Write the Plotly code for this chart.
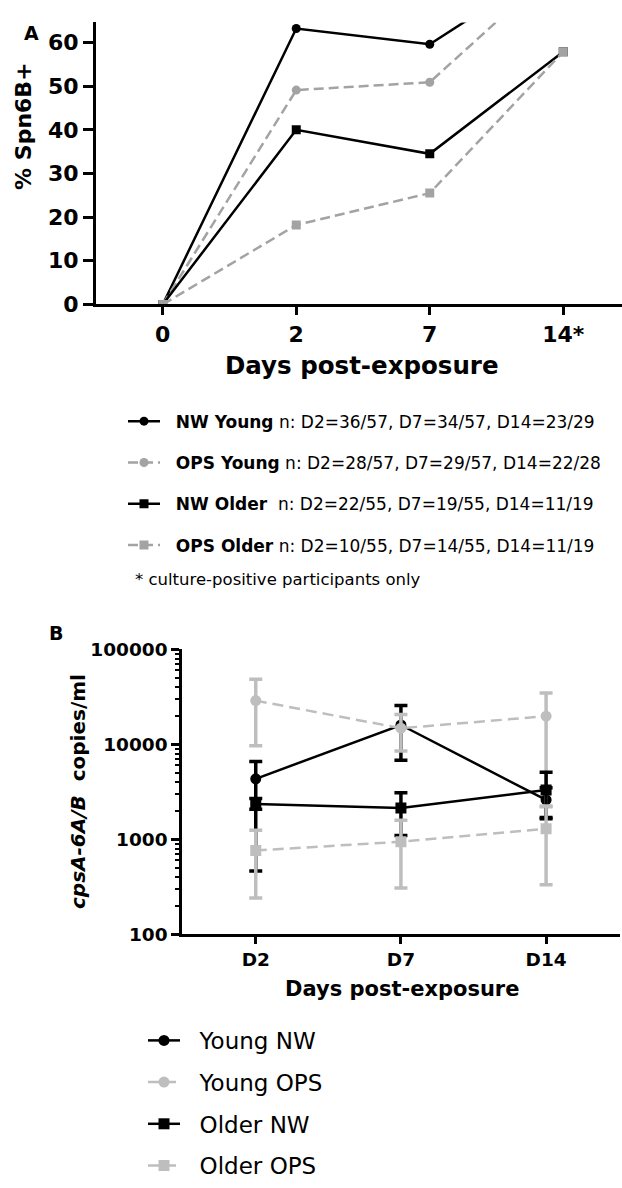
import plotly.graph_objects as go

W, H = 622, 1188
FONT = "DejaVu Sans"
GRAY_A = "#A3A3A3"
GRAY_B = "#BEBEBE"
NB = "\u00a0"

# ---------------- Panel A data ----------------
a_days = ["0", "2", "7", "14*"]
a_yticks = [0, 10, 20, 30, 40, 50, 60]
nw_young = [0, 63.2, 59.6, 79.3]
ops_young = [0, 49.1, 50.9, 78.6]
nw_older = [0, 40.0, 34.5, 57.9]
ops_older = [0, 18.2, 25.5, 57.9]
a_names = [
    "<b>NW Young</b> n: D2=36/57, D7=34/57, D14=23/29",
    "<b>OPS Young</b> n: D2=28/57, D7=29/57, D14=22/28",
    "<b>NW Older</b>\u00a0 n: D2=22/55, D7=19/55, D14=11/19",
    "<b>OPS Older</b> n: D2=10/55, D7=14/55, D14=11/19",
]

# ---------------- Panel B data ----------------
b_days = ["D2", "D7", "D14"]
b_yticks = [100, 1000, 10000, 100000]
b_yticklabels = ["100", "1000", "10000", "100000"]
young_nw = [4340, 16000, 2600]
young_nw_hi = [6600, 25700, 3500]
young_nw_lo = [465, 6800, 1700]
young_ops = [28900, 14800, 19800]
young_ops_hi = [48400, 20700, 34800]
young_ops_lo = [9700, 8500, 2200]
older_nw = [2360, 2140, 3300]
older_nw_hi = [2700, 3090, 5080]
older_nw_lo = [2080, 1100, 1650]
older_ops = [764, 944, 1295]
older_ops_hi = [1245, 1590, 2250]
older_ops_lo = [242, 307, 333]
b_names = ["Young NW", "Young OPS", "Older NW", "Older OPS"]


def px_x(p):
    return p / W


def px_y(p):
    return (H - p) / H


fig = go.Figure()

# Panel A traces
a_series = [
    (nw_young, "black", "solid", "circle"),
    (ops_young, GRAY_A, "10px,5px", "circle"),
    (nw_older, "black", "solid", "square"),
    (ops_older, GRAY_A, "10px,5px", "square"),
]
for i, (vals, col, dash, sym) in enumerate(a_series):
    fig.add_trace(go.Scatter(
        x=a_days, y=vals, mode="lines+markers", name=NB * 2 + a_names[i],
        line=dict(color=col, width=2.5, dash=dash),
        marker=dict(color=col, size=9, symbol=sym),
        xaxis="x", yaxis="y", legend="legend", legendgroup="a%d" % i,
    ))

# Panel B traces
b_series = [
    (young_nw, young_nw_hi, young_nw_lo, "black", "solid", "circle"),
    (young_ops, young_ops_hi, young_ops_lo, GRAY_B, "11px,6px", "circle"),
    (older_nw, older_nw_hi, older_nw_lo, "black", "solid", "square"),
    (older_ops, older_ops_hi, older_ops_lo, GRAY_B, "11px,6px", "square"),
]
for i, (m, hi, lo, col, dash, sym) in enumerate(b_series):
    fig.add_trace(go.Scatter(
        x=b_days, y=m, mode="lines+markers", name=NB * 2 + b_names[i],
        line=dict(color=col, width=2.5, dash=dash),
        marker=dict(color=col, size=11, symbol=sym),
        error_y=dict(type="data", symmetric=False,
                     array=[h - v for h, v in zip(hi, m)],
                     arrayminus=[v - l for v, l in zip(m, lo)],
                     color=col, thickness=3.5, width=6.5),
        xaxis="x2", yaxis="y2", legend="legend2", legendgroup="b%d" % i,
    ))

axis_common = dict(showline=True, linecolor="black", showgrid=False, zeroline=False,
                   ticks="outside", tickcolor="black")

fig.update_layout(
    width=W, height=H,
    margin=dict(l=0, r=0, t=0, b=0),
    paper_bgcolor="white", plot_bgcolor="white",
    font=dict(family=FONT, color="black"),
    xaxis=dict(domain=[px_x(96), 1.0], anchor="y", type="category", range=[-0.5, 3.44],
               linewidth=3, ticklen=8, tickwidth=3,
               tickfont=dict(size=22, weight="bold", family=FONT), **axis_common),
    yaxis=dict(domain=[px_y(300), px_y(11.7)], anchor="x", range=[0, 64.6],
               tickvals=a_yticks, linewidth=3, ticklen=10, tickwidth=3,
               tickfont=dict(size=22, weight="bold", family=FONT), **axis_common),
    xaxis2=dict(domain=[px_x(182), px_x(620)], anchor="y2", type="category", range=[-0.508, 2.509],
                linewidth=2.5, ticklen=7, tickwidth=2.5,
                tickfont=dict(size=18.5, weight="bold", family=FONT), **axis_common),
    yaxis2=dict(domain=[px_y(944), px_y(652.7)], anchor="x2", type="log", range=[2, 5],
                tickvals=b_yticks, ticktext=b_yticklabels, linewidth=2.5, ticklen=8, tickwidth=2.5,
                minor=dict(ticks="outside", ticklen=4, tickwidth=2, tickcolor="black", dtick="D1", showgrid=False),
                tickfont=dict(size=18.5, weight="bold", family=FONT), **axis_common),
    legend=dict(x=px_x(123), y=px_y(401.4), xanchor="left", yanchor="top",
                font=dict(size=17, family=FONT), itemwidth=32, tracegroupgap=16.2,
                bgcolor="rgba(0,0,0,0)", traceorder="grouped", borderwidth=0),
    legend2=dict(x=px_x(143), y=px_y(1030.5), xanchor="left", yanchor="top",
                 font=dict(size=23, family=FONT), itemwidth=32, tracegroupgap=8.8,
                 bgcolor="rgba(0,0,0,0)", traceorder="grouped", borderwidth=0),
)

ann = [
    dict(text="<b>A</b>", x=px_x(31), y=px_y(22), size=19, angle=0),
    dict(text="<b>% Spn6B+</b>", x=px_x(24), y=px_y(118.5), size=22, angle=-90),
    dict(text="<b>Days post-exposure</b>", x=px_x(362), y=px_y(362), size=24.5, angle=0),
    dict(text="* culture-positive participants only", x=px_x(278), y=px_y(581), size=16.5, angle=0),
    dict(text="<b>B</b>", x=px_x(56), y=px_y(636), size=19, angle=0),
    dict(text="<b><i>cpsA-6A/B</i>\u00a0\u00a0copies/ml</b>", x=px_x(77.5), y=px_y(798), size=20, angle=-90),
    dict(text="<b>Days post-exposure</b>", x=px_x(402), y=px_y(1000), size=21, angle=0),
]
for a in ann:
    fig.add_annotation(text=a["text"], x=a["x"], y=a["y"], xref="paper", yref="paper",
                       xanchor="center", yanchor="middle", showarrow=False,
                       textangle=a["angle"], font=dict(size=a["size"], family=FONT, color="black"))

fig.write_html("out.html", config={"displayModeBar": False},
               post_script="document.body.style.margin='0px';document.body.style.overflow='hidden';")
